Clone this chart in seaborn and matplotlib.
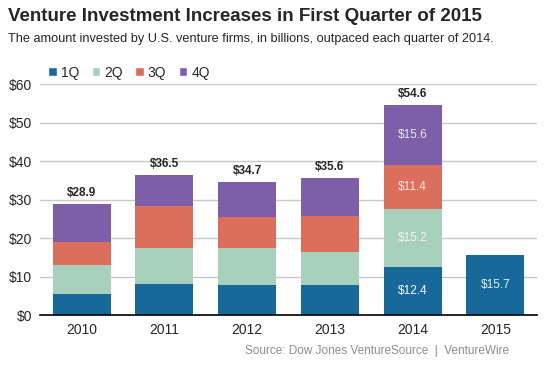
import numpy as np
import pandas as pd
import matplotlib
matplotlib.use("Agg")
import matplotlib.pyplot as plt
from matplotlib.patches import Patch
import seaborn as sns

# datos (miles de millones USD)
years = ["2010", "2011", "2012", "2013", "2014", "2015"]
q1 = [5.4, 8.2, 7.7, 7.7, 12.4, 15.7]
q2 = [7.5, 9.2, 9.7, 8.6, 15.2, 0.0]
q3 = [6.2, 10.9, 8.2, 9.5, 11.4, 0.0]
q4 = [9.8, 8.2, 9.1, 9.8, 15.6, 0.0]
totals = [28.9, 36.5, 34.7, 35.6, 54.6, None]
quarters = ["1Q", "2Q", "3Q", "4Q"]
colors = {"1Q": "#17699a", "2Q": "#a8d1bd", "3Q": "#db6f5b", "4Q": "#7d5ea8"}

sns.set_theme(style="white")
plt.rcParams['font.family'] = ['Liberation Sans', 'DejaVu Sans']

df = pd.DataFrame({"year": years, "1Q": q1, "2Q": q2, "3Q": q3, "4Q": q4})
# acumulados para apilar con barplot superpuestos
df["c1"] = df["1Q"]
df["c2"] = df["c1"] + df["2Q"]
df["c3"] = df["c2"] + df["3Q"]
df["c4"] = df["c3"] + df["4Q"]

fig = plt.figure(figsize=(5.5, 3.66), dpi=100)
ax = fig.add_axes([0.073, 0.139, 0.903, 0.631])

for col, q in [("c4", "4Q"), ("c3", "3Q"), ("c2", "2Q"), ("c1", "1Q")]:
    sns.barplot(data=df, x="year", y=col, color=colors[q], width=0.7,
                saturation=1, ax=ax, linewidth=0)

ax.set_ylim(0, 60)
ax.set_xlim(-0.5, 5.5)
ax.set_yticks(range(0, 61, 10))
ax.set_yticklabels([f"${v}" for v in range(0, 61, 10)], fontsize=10)
ax.yaxis.grid(True, color="#c8c8c8", linewidth=1)
ax.set_axisbelow(True)
ax.set_xlabel("")
ax.set_ylabel("")
ax.tick_params(axis="y", length=0, pad=6)
ax.tick_params(axis="x", length=0, labelsize=10, pad=6)
# marcas entre categorias
ax.set_xticks(np.arange(-0.5, 6.0, 1.0), minor=True)
ax.tick_params(axis="x", which="minor", length=4, width=1, color="black", direction="out")
for s in ["top", "right", "left"]:
    ax.spines[s].set_visible(False)
ax.spines["bottom"].set_color("black")
ax.spines["bottom"].set_linewidth(1.2)

# totales sobre las barras
narrow = ['Liberation Sans Narrow', 'Liberation Sans', 'DejaVu Sans']
for i, t in enumerate(totals):
    if t is not None:
        ax.text(i, t + 1.2, f"${t}", ha="center", va="bottom", fontsize=8.5,
                fontweight="bold", family=narrow)

# etiquetas internas de 2014 y 2015
inner = [(4, q1[4], q1[4] / 2, "white"),
         (4, q2[4], q1[4] + q2[4] / 2, "#eef6f1"),
         (4, q3[4], q1[4] + q2[4] + q3[4] / 2, "#fbe6df"),
         (4, q4[4], q1[4] + q2[4] + q3[4] + q4[4] / 2, "#eee6f6"),
         (5, q1[5], q1[5] / 2, "#dff0fb")]
for x, v, y, c in inner:
    ax.text(x, y, f"${v}", ha="center", va="center", fontsize=8.5,
            color=c, family=narrow)

handles = [Patch(facecolor=colors[q], label=q) for q in quarters]
fig.legend(handles=handles, loc="upper left", bbox_to_anchor=(0.065, 0.855),
           ncol=4, frameon=False, fontsize=10, handlelength=0.6, handleheight=0.6,
           handletextpad=0.3, columnspacing=0.9)

fig.text(0.015, 0.955, "Venture Investment Increases in First Quarter of 2015",
         fontsize=13.5, fontweight="bold", ha="left", va="center")
fig.text(0.015, 0.893, "The amount invested by U.S. venture firms, in billions, outpaced each quarter of 2014.",
         fontsize=9.2, ha="left", va="center")
fig.text(0.925, 0.04, "Source: Dow Jones VentureSource  |  VentureWire",
         fontsize=8.5, color="#8c8c8c", ha="right", va="center")

fig.savefig("out.png", dpi=100)
